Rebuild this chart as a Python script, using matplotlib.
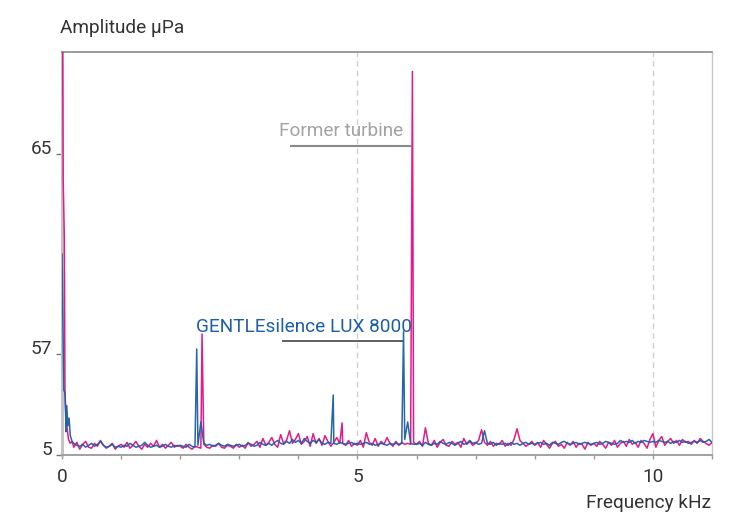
import numpy as np
import matplotlib
matplotlib.use("Agg")
import matplotlib.pyplot as plt

plt.rcParams['font.family'] = ['Roboto', 'DejaVu Sans']

# ---------------- data ----------------
# low-frequency start of each spectrum (kHz, amplitude)
blue_lf_f = [0.0, 0.01, 0.03, 0.05, 0.07, 0.08, 0.10, 0.12, 0.14, 0.17]
blue_lf_a = [61.0, 59.2, 38.5, 37.0, 17.0, 30.5, 20.0, 24.0, 15.0, 12.0]
pink_lf_f = [0.0, 0.02, 0.04, 0.05, 0.07, 0.09, 0.11, 0.14, 0.17]
pink_lf_a = [75.0, 64.0, 61.6, 38.0, 22.0, 18.0, 13.0, 11.0, 12.0]

# noise floor sampled every 0.05 kHz from 0.20 to 11.00 kHz
grid_f = np.round(np.arange(0.20, 11.0001, 0.05), 2)

blue_noise = [
    # 0.20 - 0.95
    11.0, 10.0, 9.5, 10.5, 9.0, 10.0, 11.0, 9.5, 10.5, 12.0, 10.0, 9.0, 9.5, 10.5, 9.0, 9.5,
    # 1.00 - 1.95
    9.0, 10.0, 9.5, 11.0, 10.0, 9.0, 9.5, 10.0, 11.5, 10.0, 9.0, 9.5, 10.0, 9.0, 9.5, 10.5, 9.5, 9.0, 10.0, 9.5,
    # 2.00 - 2.95
    10.0, 9.5, 9.0, 10.5, 9.5, 9.0, 10.0, 22.0, 11.0, 10.0, 10.5, 9.5, 10.0, 11.0, 10.0, 9.5, 10.5, 10.0, 9.5, 10.0,
    # 3.00 - 3.95
    10.5, 9.5, 10.0, 11.0, 10.5, 9.5, 10.0, 11.5, 10.5, 10.0, 11.0, 10.0, 11.5, 12.5, 11.0, 10.5, 12.0, 11.0, 13.0, 11.5,
    # 4.00 - 4.95
    12.5, 11.0, 13.5, 12.0, 11.0, 12.5, 11.5, 13.0, 11.0, 10.5, 11.5, 11.0, 11.0, 10.5, 11.5, 11.0, 10.5, 11.0, 11.5, 10.5,
    # 5.00 - 5.95
    11.0, 10.5, 11.0, 11.5, 10.5, 11.0, 10.0, 10.5, 11.0, 10.5, 10.0, 11.0, 10.5, 11.0, 10.5, 11.0, 13.0, 22.0, 11.0, 10.5,
    # 6.00 - 6.95
    10.5, 11.0, 10.0, 11.5, 10.5, 10.0, 11.0, 10.5, 12.0, 11.0, 10.5, 11.5, 11.0, 10.0, 11.0, 12.0, 10.5, 11.0, 12.5, 11.0,
    # 7.00 - 7.95
    11.5, 10.5, 11.0, 17.5, 11.0, 10.5, 11.5, 10.0, 11.0, 10.5, 11.0, 10.0, 11.5, 10.5, 11.0, 10.0, 11.0, 11.5, 10.5, 11.0,
    # 8.00 - 8.95
    10.5, 11.0, 11.5, 10.5, 11.0, 10.0, 11.5, 11.0, 10.5, 11.5, 12.0, 11.0, 10.5, 11.0, 11.5, 10.5, 11.0, 11.5, 11.0, 10.5,
    # 9.00 - 9.95
    11.0, 11.5, 10.5, 11.0, 12.0, 11.5, 11.0, 10.5, 11.0, 12.5, 11.5, 12.0, 11.5, 12.5, 11.0, 12.0, 11.5, 12.5, 12.0, 11.5,
    # 10.00 - 10.95
    12.0, 11.5, 12.5, 12.0, 11.5, 12.0, 11.0, 12.0, 11.5, 12.5, 11.5, 12.0, 11.0, 11.5, 12.0, 11.5, 12.5, 11.5, 12.0, 13.0,
    # 11.00
    11.5,
]

pink_noise = [
    # 0.20 - 0.95
    9.0, 11.5, 8.0, 10.5, 12.0, 9.0, 8.5, 11.0, 9.5, 12.5, 10.0, 8.5, 9.5, 11.0, 8.0, 9.5,
    # 1.00 - 1.95
    10.5, 9.0, 11.5, 8.5, 10.0, 12.0, 9.5, 8.0, 10.5, 9.0, 11.0, 9.5, 12.5, 9.0, 10.5, 8.5, 10.0, 11.5, 9.0, 10.0,
    # 2.00 - 2.95
    9.5, 8.5, 10.5, 9.0, 8.0, 9.5, 9.0, 8.5, 10.5, 9.0, 8.5, 10.0, 9.5, 11.0, 9.0, 8.5, 10.0, 9.5, 8.5, 10.5,
    # 3.00 - 3.95
    9.0, 10.0, 8.5, 11.5, 9.5, 10.5, 12.0, 9.0, 13.5, 10.0, 11.5, 14.0, 10.5, 9.0, 15.5, 11.0, 12.5, 17.5, 11.0, 13.0,
    # 4.00 - 4.95
    16.0, 10.5, 12.0, 14.5, 9.5, 16.0, 11.0, 13.5, 10.0, 15.0, 12.0, 9.5, 11.5, 14.0, 11.0, 11.0, 10.0, 12.5, 9.5, 11.0,
    # 5.00 - 5.95
    10.0, 12.5, 9.0, 16.5, 11.5, 10.0, 13.5, 9.5, 12.0, 10.5, 14.0, 11.0, 9.5, 12.0, 10.0, 11.5, 10.5, 11.0, 10.5, 11.5,
    # 6.00 - 6.95
    10.5, 12.0, 9.5, 19.0, 11.0, 10.0, 12.5, 9.0, 11.5, 13.0, 10.0, 9.5, 12.0, 10.5, 11.5, 9.0, 13.5, 10.5, 12.0, 10.0,
    # 7.00 - 7.95
    11.0, 12.5, 18.0, 11.5, 10.0, 12.0, 9.5, 11.0, 10.5, 12.5, 9.5, 11.0, 10.0, 13.0, 18.5, 12.5, 11.0, 9.5, 10.5, 12.0,
    # 8.00 - 8.95
    10.0, 11.5, 9.0, 12.5, 10.5, 8.5, 11.0, 12.0, 9.5, 10.5, 8.5, 11.5, 10.0, 12.0, 9.0, 11.0, 10.5, 8.0, 11.5, 10.0,
    # 9.00 - 9.95
    11.0, 9.5, 12.0, 10.5, 8.5, 11.5, 10.0, 12.5, 9.0, 11.0, 12.0, 9.5, 13.0, 10.5, 11.5, 9.0, 12.5, 11.0, 8.5, 13.0,
    # 10.00 - 10.95
    16.0, 9.0, 12.5, 14.5, 10.0, 12.0, 13.5, 11.0, 12.5, 10.0, 13.0, 11.5, 12.0, 10.5, 12.5, 11.0, 13.5, 12.0, 11.0, 10.0,
    # 11.00
    11.5,
]

# tonal peaks
blue_peak_f = [2.28, 4.59, 5.78]
blue_peak_a = [57.2, 35.9, 57.9]
pink_peak_f = [2.37, 4.74, 5.93]
pink_peak_a = [57.8, 21.5, 68.3]

y_ticks = [5, 57, 65]
x_major = [0, 5, 10]
x_minor = [1, 2, 3, 4, 6, 7, 8, 9, 11]

label_blue = "GENTLEsilence LUX 8000"
label_pink = "Former turbine"


def build(lf_f, lf_a, noise, pk_f, pk_a):
    f = np.concatenate([lf_f, grid_f, pk_f])
    a = np.concatenate([lf_a, noise, pk_a])
    o = np.argsort(f, kind="stable")
    return f[o], a[o]


bf, ba = build(blue_lf_f, blue_lf_a, blue_noise, blue_peak_f, blue_peak_a)
pf, pa = build(pink_lf_f, pink_lf_a, pink_noise, pink_peak_f, pink_peak_a)


# piecewise amplitude axis as in the original
def fwd(v):
    v = np.asarray(v, float)
    return np.where(v <= 57, (v - 5) * 101 / 52, 101 + (v - 57) * 25)


def inv(u):
    u = np.asarray(u, float)
    return np.where(u <= 101, 5 + u * 52 / 101, 57 + (u - 101) / 25)


PINK = "#e5198b"
BLUE = "#1c5ea8"
GREY = "#8a8a8a"
FS = 13.7

fig = plt.figure(figsize=(7.4, 5.13), dpi=100)
ax = fig.add_axes([62 / 740, 1 - 455 / 513, 650 / 740, 403 / 513])
ax.set_yscale('function', functions=(fwd, inv))
ax.set_xlim(0, 11.0)
ax.set_ylim(5, 69.08)

for xv in [5, 10]:
    ax.axvline(xv, color="#cfcfcf", lw=1.0, ls=(0, (4, 3)), zorder=1)

ax.plot(pf, pa, color=PINK, lw=1.1, zorder=3)
ax.plot(bf, ba, color=BLUE, lw=1.1, zorder=4, alpha=0.95)

ax.set_xticks(x_major)
ax.set_xticklabels([str(v) for v in x_major])
ax.set_xticks(x_minor, minor=True)
ax.set_yticks(y_ticks)
ax.set_yticklabels([str(v) for v in y_ticks])
ax.yaxis.set_minor_locator(matplotlib.ticker.NullLocator())
ax.tick_params(axis='x', which='both', direction='out', length=3, width=1,
               color="#9a9a9a", labelsize=FS, labelcolor="#333333", pad=6)
ax.tick_params(axis='y', which='both', direction='out', length=4, width=1,
               color="#777777", labelsize=FS, labelcolor="#333333", pad=3)
for lab in ax.get_yticklabels():
    lab.set_va('baseline')

ax.spines['left'].set_color("#c4c4c4")
ax.spines['left'].set_linewidth(2.2)
ax.spines['left'].set_zorder(2)
ax.spines['bottom'].set_color("#9a9a9a")
ax.spines['bottom'].set_linewidth(1.3)
ax.spines['top'].set_color("#8a8a8a")
ax.spines['top'].set_linewidth(1.2)
ax.spines['right'].set_color("#c8c8c8")
ax.spines['right'].set_linewidth(1.0)

# annotations
ax.text(3.68, 65.72, label_pink, color="#a3a3a3", fontsize=FS, ha='left', va='baseline', zorder=5)
ax.hlines(65.32, 3.86, 5.915, color=GREY, lw=1.5, zorder=5)
ax.text(2.268, 57.88, label_blue, color=BLUE, fontsize=FS, ha='left', va='baseline', zorder=5)
ax.hlines(57.54, 3.72, 5.77, color="#444444", lw=1.2, zorder=5)

fig.text(60 / 740, 1 - 33 / 513, "Amplitude µPa", fontsize=FS, color="#333333",
         ha='left', va='baseline')
fig.text(711 / 740, 1 - 508 / 513, "Frequency kHz", fontsize=FS, color="#333333",
         ha='right', va='baseline')

fig.savefig("out.png", dpi=100)
